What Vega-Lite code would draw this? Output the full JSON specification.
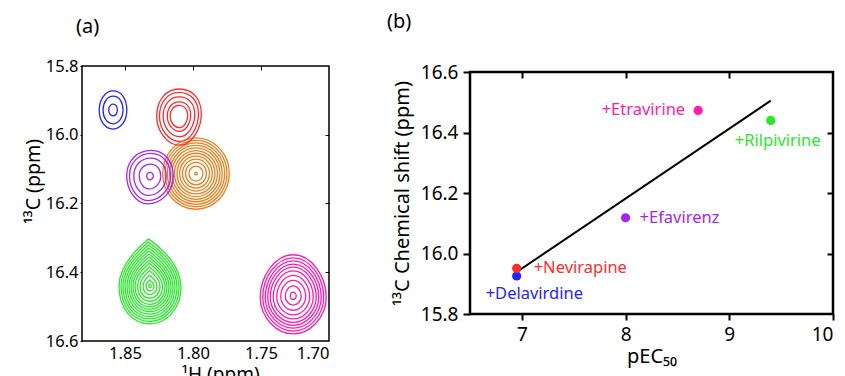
{
  "$schema": "https://vega.github.io/schema/vega-lite/v6.json",
  "padding": {"left": 22, "top": 11, "right": 0, "bottom": 0},
  "config": {
    "font": "Noto Sans",
    "axis": {"labelColor": "black", "tickColor": "black", "titleColor": "black", "titleFontWeight": "normal", "grid": false, "domain": false, "labelFont": "Noto Sans", "titleFont": "Noto Sans"},
    "title": {"font": "Noto Sans", "fontWeight": "normal", "color": "black"},
    "text": {"font": "Noto Sans"}
  },
  "datasets": {
    "contours": [
      {"peak": "apo", "H": 1.7978, "C": 16.113, "r": 0.02449},
      {"peak": "apo", "H": 1.7978, "C": 16.113, "r": 0.02279},
      {"peak": "apo", "H": 1.7978, "C": 16.113, "r": 0.0211},
      {"peak": "apo", "H": 1.7978, "C": 16.113, "r": 0.01934},
      {"peak": "apo", "H": 1.7978, "C": 16.113, "r": 0.01765},
      {"peak": "apo", "H": 1.7978, "C": 16.113, "r": 0.01581},
      {"peak": "apo", "H": 1.7978, "C": 16.113, "r": 0.01397},
      {"peak": "apo", "H": 1.7978, "C": 16.113, "r": 0.01199},
      {"peak": "apo", "H": 1.7978, "C": 16.113, "r": 0.00993},
      {"peak": "apo", "H": 1.7978, "C": 16.113, "r": 0.00772},
      {"peak": "apo", "H": 1.7978, "C": 16.113, "r": 0.00515},
      {"peak": "apo", "H": 1.7978, "C": 16.113, "r": 0.00096},
      {"peak": "Delavirdine", "H": 1.8588, "C": 15.928, "r": 0.01015},
      {"peak": "Delavirdine", "H": 1.8588, "C": 15.928, "r": 0.00735},
      {"peak": "Delavirdine", "H": 1.8588, "C": 15.928, "r": 0.00316},
      {"peak": "Nevirapine", "H": 1.8103, "C": 15.946, "r": 0.0164},
      {"peak": "Nevirapine", "H": 1.8103, "C": 15.946, "r": 0.01434},
      {"peak": "Nevirapine", "H": 1.8103, "C": 15.946, "r": 0.01162},
      {"peak": "Nevirapine", "H": 1.8103, "C": 15.946, "r": 0.0086},
      {"peak": "Nevirapine", "H": 1.8103, "C": 15.946, "r": 0.00647},
      {"peak": "Efavirenz", "H": 1.8316, "C": 16.12, "r": 0.01713},
      {"peak": "Efavirenz", "H": 1.8316, "C": 16.12, "r": 0.01507},
      {"peak": "Efavirenz", "H": 1.8316, "C": 16.12, "r": 0.01191},
      {"peak": "Efavirenz", "H": 1.8316, "C": 16.12, "r": 0.00794},
      {"peak": "Efavirenz", "H": 1.8316, "C": 16.12, "r": 0.00243},
      {"peak": "Rilpivirine", "H": 1.8316, "C": 16.44, "r": 0.02279},
      {"peak": "Rilpivirine", "H": 1.8316, "C": 16.44, "r": 0.02132},
      {"peak": "Rilpivirine", "H": 1.8316, "C": 16.44, "r": 0.01985},
      {"peak": "Rilpivirine", "H": 1.8316, "C": 16.44, "r": 0.01838},
      {"peak": "Rilpivirine", "H": 1.8316, "C": 16.44, "r": 0.01691},
      {"peak": "Rilpivirine", "H": 1.8316, "C": 16.44, "r": 0.01544},
      {"peak": "Rilpivirine", "H": 1.8316, "C": 16.44, "r": 0.01397},
      {"peak": "Rilpivirine", "H": 1.8316, "C": 16.44, "r": 0.0125},
      {"peak": "Rilpivirine", "H": 1.8316, "C": 16.44, "r": 0.01103},
      {"peak": "Rilpivirine", "H": 1.8316, "C": 16.44, "r": 0.00919},
      {"peak": "Rilpivirine", "H": 1.8316, "C": 16.44, "r": 0.00735},
      {"peak": "Rilpivirine", "H": 1.8316, "C": 16.44, "r": 0.00515},
      {"peak": "Rilpivirine", "H": 1.8316, "C": 16.44, "r": 0.00294},
      {"peak": "Rilpivirine", "H": 1.8316, "C": 16.44, "r": 0.00096},
      {"peak": "Etravirine", "H": 1.7263, "C": 16.469, "r": 0.02426},
      {"peak": "Etravirine", "H": 1.7263, "C": 16.469, "r": 0.02243},
      {"peak": "Etravirine", "H": 1.7263, "C": 16.469, "r": 0.02059},
      {"peak": "Etravirine", "H": 1.7263, "C": 16.469, "r": 0.01875},
      {"peak": "Etravirine", "H": 1.7263, "C": 16.469, "r": 0.01691},
      {"peak": "Etravirine", "H": 1.7263, "C": 16.469, "r": 0.01471},
      {"peak": "Etravirine", "H": 1.7263, "C": 16.469, "r": 0.01213},
      {"peak": "Etravirine", "H": 1.7263, "C": 16.469, "r": 0.00919},
      {"peak": "Etravirine", "H": 1.7263, "C": 16.469, "r": 0.00588},
      {"peak": "Etravirine", "H": 1.7263, "C": 16.469, "r": 0.00221}
    ],
    "drugs": [
      {"drug": "Delavirdine", "label": "+Delavirdine", "pEC50": 6.95, "shift": 15.926},
      {"drug": "Nevirapine", "label": "+Nevirapine", "pEC50": 6.95, "shift": 15.951},
      {"drug": "Efavirenz", "label": "+Efavirenz", "pEC50": 8.0, "shift": 16.118},
      {"drug": "Etravirine", "label": "+Etravirine", "pEC50": 8.7, "shift": 16.473},
      {"drug": "Rilpivirine", "label": "+Rilpivirine", "pEC50": 9.4, "shift": 16.44}
    ]
  },
  "bounds": "full",
  "spacing": 56,
  "hconcat": [
    {
      "width": 247,
      "height": 275,
      "title": {"text": "(a)", "anchor": "start", "frame": "group", "dx": -6, "offset": 21, "fontSize": 20},
      "view": {"stroke": "black", "strokeWidth": 1.5},
      "data": {"name": "contours"},
      "layer": [
        {
          "transform": [{"filter": "datum.peak === 'apo'"}],
          "mark": {"type": "point", "filled": false, "strokeWidth": 1.3, "opacity": 1},
          "encoding": {
            "x": {"field": "H", "type": "quantitative", "scale": {"domain": [1.7, 1.8816], "reverse": true, "nice": false, "zero": false},
              "axis": {"orient": "bottom", "values": [1.85, 1.8, 1.75, 1.7], "format": ".2f", "title": "¹H (ppm)", "ticks": false, "labelPadding": 4, "labelFontSize": 16.5, "titleFontSize": 19, "titlePadding": 4, "titleX": 138}},
            "y": {"field": "C", "type": "quantitative", "scale": {"domain": [15.8, 16.6], "reverse": true, "nice": false, "zero": false},
              "axis": {"orient": "left", "values": [15.8, 16.0, 16.2, 16.4, 16.6], "format": ".1f", "title": "¹³C (ppm)", "tickSize": 2, "labelPadding": 2, "labelFontSize": 16.5, "titleFontSize": 19.5, "titlePadding": 2, "titleY": 115}},
            "color": {"field": "peak", "type": "nominal", "legend": null,
              "scale": {"domain": ["apo", "Delavirdine", "Nevirapine", "Efavirenz", "Rilpivirine", "Etravirine"], "range": ["#e8801e", "#2424ff", "#ff2b2b", "#a526f0", "#2ae82a", "#ff1cae"]}},
            "shape": {"field": "peak", "type": "nominal", "legend": null,
              "scale": {"domain": ["apo", "Delavirdine", "Nevirapine", "Efavirenz", "Rilpivirine", "Etravirine"],
                "range": [
                  "M0,-1.07 C0.5523,-1.07 1,-0.59 1,0 C1,0.59 0.5523,1.07 0,1.07 C-0.5523,1.07 -1,0.59 -1,0 C-1,-0.59 -0.5523,-1.07 0,-1.07 Z",
                  "M0,-1.38 C0.62,-1.38 1,-0.8 1,0 C1,0.8 0.55,1.38 0,1.38 C-0.6,1.38 -1,0.76 -1,0 C-1,-0.76 -0.55,-1.38 0,-1.38 Z",
                  "M0,-1.22 C0.6,-1.22 1,-0.8 1,-0.1 C1,0.6 0.55,1.3 0.05,1.3 C-0.5,1.3 -1,0.7 -1,0 C-1,-0.75 -0.55,-1.22 0,-1.22 Z",
                  "M0.05,-1.1 C0.6,-1.1 1,-0.65 1,0 C1,0.65 0.5,1.2 -0.1,1.2 C-0.6,1.2 -1,0.6 -1,0 C-1,-0.7 -0.5,-1.1 0.05,-1.1 Z",
                  "M-0.05,-1.52 C0.45,-1.15 1,-0.65 1,0.05 C1,0.75 0.5,1.22 0,1.22 C-0.6,1.22 -1,0.7 -1,0 C-1,-0.6 -0.55,-1.1 -0.05,-1.52 Z",
                  "M0,-1.25 C0.55,-1.25 1,-0.6 1,0.05 C1,0.65 0.5,1.15 0,1.15 C-0.5,1.15 -1,0.65 -1,0.05 C-1,-0.6 -0.55,-1.25 0,-1.25 Z"
                ]}},
            "size": {"field": "r", "type": "quantitative", "legend": null, "scale": {"type": "pow", "exponent": 2, "domain": [0, 0.05], "range": [0, 18496]}}
          }
        },
        {
          "transform": [{"filter": "datum.peak !== 'apo'"}],
          "mark": {"type": "point", "filled": false, "strokeWidth": 1.3, "opacity": 1},
          "encoding": {
            "x": {"field": "H", "type": "quantitative", "scale": {"domain": [1.7, 1.8816], "reverse": true, "nice": false, "zero": false},
              "axis": {"orient": "top", "values": [1.85, 1.8, 1.75], "labels": false, "title": null, "tickSize": -4}},
            "y": {"field": "C", "type": "quantitative", "scale": {"domain": [15.8, 16.6], "reverse": true, "nice": false, "zero": false},
              "axis": {"orient": "right", "values": [16.0, 16.2, 16.4], "labels": false, "title": null, "tickSize": -4}},
            "color": {"field": "peak", "type": "nominal", "legend": null,
              "scale": {"domain": ["apo", "Delavirdine", "Nevirapine", "Efavirenz", "Rilpivirine", "Etravirine"], "range": ["#e8801e", "#2424ff", "#ff2b2b", "#a526f0", "#2ae82a", "#ff1cae"]}},
            "shape": {"field": "peak", "type": "nominal", "legend": null,
              "scale": {"domain": ["apo", "Delavirdine", "Nevirapine", "Efavirenz", "Rilpivirine", "Etravirine"],
                "range": [
                  "M0,-1.07 C0.5523,-1.07 1,-0.59 1,0 C1,0.59 0.5523,1.07 0,1.07 C-0.5523,1.07 -1,0.59 -1,0 C-1,-0.59 -0.5523,-1.07 0,-1.07 Z",
                  "M0,-1.38 C0.62,-1.38 1,-0.8 1,0 C1,0.8 0.55,1.38 0,1.38 C-0.6,1.38 -1,0.76 -1,0 C-1,-0.76 -0.55,-1.38 0,-1.38 Z",
                  "M0,-1.22 C0.6,-1.22 1,-0.8 1,-0.1 C1,0.6 0.55,1.3 0.05,1.3 C-0.5,1.3 -1,0.7 -1,0 C-1,-0.75 -0.55,-1.22 0,-1.22 Z",
                  "M0.05,-1.1 C0.6,-1.1 1,-0.65 1,0 C1,0.65 0.5,1.2 -0.1,1.2 C-0.6,1.2 -1,0.6 -1,0 C-1,-0.7 -0.5,-1.1 0.05,-1.1 Z",
                  "M-0.05,-1.52 C0.45,-1.15 1,-0.65 1,0.05 C1,0.75 0.5,1.22 0,1.22 C-0.6,1.22 -1,0.7 -1,0 C-1,-0.6 -0.55,-1.1 -0.05,-1.52 Z",
                  "M0,-1.25 C0.55,-1.25 1,-0.6 1,0.05 C1,0.65 0.5,1.15 0,1.15 C-0.5,1.15 -1,0.65 -1,0.05 C-1,-0.6 -0.55,-1.25 0,-1.25 Z"
                ]}},
            "size": {"field": "r", "type": "quantitative", "legend": null, "scale": {"type": "pow", "exponent": 2, "domain": [0, 0.05], "range": [0, 18496]}}
          }
        }
      ],
      "resolve": {"axis": {"x": "independent", "y": "independent"}}
    },
    {
      "title": {"text": "(b)", "anchor": "start", "frame": "group", "dx": -83, "offset": 30, "fontSize": 20},
      "bounds": "flush",
      "spacing": 5,
      "vconcat": [
        {
          "width": 363,
          "height": 1,
          "view": {"stroke": null},
          "data": {"values": []},
          "mark": "point"
        },
        {
          "width": 363,
          "height": 242,
          "view": {"stroke": "black", "strokeWidth": 2.5},
          "data": {"name": "drugs"},
          "layer": [
            {
              "transform": [{"regression": "shift", "on": "pEC50"}],
              "mark": {"type": "line", "color": "black", "strokeWidth": 2},
              "encoding": {
                "x": {"field": "pEC50", "type": "quantitative", "scale": {"domain": [6.5, 10], "nice": false, "zero": false},
                  "axis": {"orient": "bottom", "values": [7, 8, 9, 10], "title": "pEC₅₀", "tickSize": 6, "tickWidth": 2, "labelPadding": 5, "labelFontSize": 19, "titleFontSize": 20, "titlePadding": 2}},
                "y": {"field": "shift", "type": "quantitative", "scale": {"domain": [15.8, 16.6], "nice": false, "zero": false},
                  "axis": {"orient": "left", "values": [15.8, 16.0, 16.2, 16.4, 16.6], "format": ".1f", "title": "¹³C Chemical shift (ppm)", "tickSize": 7, "tickWidth": 2, "labelPadding": 5, "labelFontSize": 19, "titleFontSize": 20, "titlePadding": 8}}
              }
            },
            {
              "mark": {"type": "circle", "size": 85, "opacity": 1},
              "encoding": {
                "x": {"field": "pEC50", "type": "quantitative", "scale": {"domain": [6.5, 10], "nice": false, "zero": false},
                  "axis": {"orient": "top", "values": [7, 8, 9], "labels": false, "title": null, "tickSize": -6, "tickWidth": 2}},
                "y": {"field": "shift", "type": "quantitative", "scale": {"domain": [15.8, 16.6], "nice": false, "zero": false},
                  "axis": {"orient": "right", "values": [16.0, 16.2, 16.4], "labels": false, "title": null, "tickSize": -6, "tickWidth": 2}},
                "color": {"field": "drug", "type": "nominal", "legend": null,
                  "scale": {"domain": ["apo", "Delavirdine", "Nevirapine", "Efavirenz", "Rilpivirine", "Etravirine"], "range": ["#e8801e", "#2424ff", "#ff2b2b", "#a526f0", "#2ae82a", "#ff1cae"]}}
              }
            },
            {
              "transform": [{"filter": "datum.drug === 'Etravirine'"}],
              "mark": {"type": "text", "align": "right", "baseline": "middle", "dx": -13, "dy": 0, "fontSize": 16.5},
              "encoding": {
                "x": {"field": "pEC50", "type": "quantitative", "axis": null},
                "y": {"field": "shift", "type": "quantitative", "axis": null},
                "text": {"field": "label"},
                "color": {"field": "drug", "type": "nominal", "legend": null}
              }
            },
            {
              "transform": [{"filter": "datum.drug === 'Rilpivirine'"}],
              "mark": {"type": "text", "align": "left", "baseline": "middle", "dx": -36, "dy": 21, "fontSize": 16.5},
              "encoding": {
                "x": {"field": "pEC50", "type": "quantitative", "axis": null},
                "y": {"field": "shift", "type": "quantitative", "axis": null},
                "text": {"field": "label"},
                "color": {"field": "drug", "type": "nominal", "legend": null}
              }
            },
            {
              "transform": [{"filter": "datum.drug === 'Efavirenz'"}],
              "mark": {"type": "text", "align": "left", "baseline": "middle", "dx": 14, "dy": 0, "fontSize": 16.5},
              "encoding": {
                "x": {"field": "pEC50", "type": "quantitative", "axis": null},
                "y": {"field": "shift", "type": "quantitative", "axis": null},
                "text": {"field": "label"},
                "color": {"field": "drug", "type": "nominal", "legend": null}
              }
            },
            {
              "transform": [{"filter": "datum.drug === 'Nevirapine'"}],
              "mark": {"type": "text", "align": "left", "baseline": "middle", "dx": 17, "dy": 0, "fontSize": 16.5},
              "encoding": {
                "x": {"field": "pEC50", "type": "quantitative", "axis": null},
                "y": {"field": "shift", "type": "quantitative", "axis": null},
                "text": {"field": "label"},
                "color": {"field": "drug", "type": "nominal", "legend": null}
              }
            },
            {
              "transform": [{"filter": "datum.drug === 'Delavirdine'"}],
              "mark": {"type": "text", "align": "left", "baseline": "middle", "dx": -31, "dy": 18, "fontSize": 16.5},
              "encoding": {
                "x": {"field": "pEC50", "type": "quantitative", "axis": null},
                "y": {"field": "shift", "type": "quantitative", "axis": null},
                "text": {"field": "label"},
                "color": {"field": "drug", "type": "nominal", "legend": null}
              }
            }
          ],
          "resolve": {"axis": {"x": "independent", "y": "independent"}}
        }
      ]
    }
  ]
}
